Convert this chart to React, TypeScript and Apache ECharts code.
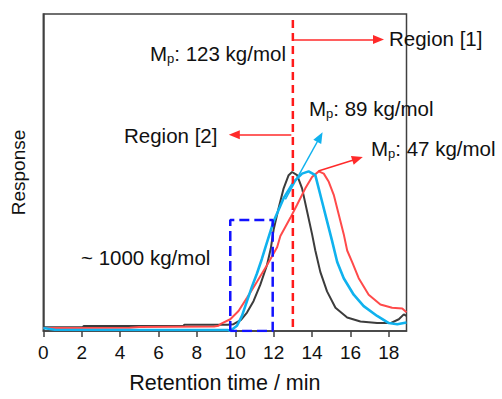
import React, { useEffect, useRef } from "react";
import * as echarts from "echarts";

// x: retention time (min), y: normalized response
const blackCurve: number[][] = [
  [0, 0.023], [2.05, 0.023], [2.1, 0.031], [7.3, 0.031], [7.35, 0.04], [9.6, 0.04],
  [9.91, 0.043], [10.3, 0.07], [10.61, 0.116], [10.95, 0.188], [11.3, 0.291], [11.65, 0.415],
  [11.85, 0.52], [12.0, 0.64], [12.26, 0.776], [12.52, 0.9], [12.78, 0.983], [12.96, 1.003],
  [13.22, 0.983], [13.48, 0.9], [13.74, 0.755], [14.0, 0.611], [14.17, 0.508], [14.43, 0.373],
  [14.78, 0.25], [15.22, 0.147], [15.83, 0.085], [16.52, 0.06], [17.39, 0.05], [18.09, 0.05],
  [18.52, 0.074], [18.78, 0.105], [18.92, 0.095],
];
const cyanCurve: number[][] = [
  [0, 0.019], [0.6, 0.008], [9.6, 0.006], [9.74, 0.002], [10.09, 0.033], [10.35, 0.095],
  [10.61, 0.188], [10.87, 0.28], [11.13, 0.363], [11.39, 0.456], [11.57, 0.528], [12.0, 0.693],
  [12.52, 0.838], [13.04, 0.941], [13.48, 0.993], [13.82, 1.007], [14.17, 0.983], [14.26, 0.941],
  [14.52, 0.817], [14.78, 0.693], [15.04, 0.57], [15.31, 0.435], [15.65, 0.333], [16.17, 0.229],
  [16.69, 0.157], [17.39, 0.095], [18.0, 0.05], [18.44, 0.043], [18.92, 0.054],
];
const redCurve: number[][] = [
  [0, 0.019], [4.5, 0.021], [5.0, 0.025], [8.9, 0.028], [9.13, 0.033], [9.22, 0.043],
  [9.74, 0.074], [10.17, 0.126], [10.61, 0.209], [11.13, 0.311], [11.65, 0.415], [12.18, 0.528],
  [12.35, 0.6], [12.87, 0.714], [13.22, 0.797], [13.65, 0.9], [14.0, 0.972], [14.35, 1.007],
  [14.61, 0.993], [14.87, 0.941], [15.13, 0.859], [15.39, 0.735], [15.65, 0.611], [15.83, 0.508],
  [16.09, 0.435], [16.43, 0.333], [16.95, 0.229], [17.56, 0.167], [18.17, 0.147], [18.7, 0.142],
  [18.92, 0.118],
];
const mpLine: number[][] = [[13.0, 0.025], [13.0, 1.975]];
const boxOutline: number[][] = [[9.74, 0], [9.74, 0.7], [11.95, 0.7], [11.95, 0], [9.74, 0]];
const xTicks = { min: 0, max: 18.92, interval: 2 };

const FONT = "'Liberation Sans', Arial, sans-serif";

export default function App() {
  const ref = useRef<HTMLDivElement>(null);
  useEffect(() => {
    if (!ref.current) return;
    const chart = echarts.init(ref.current, undefined, { renderer: "svg" });
    const arrow = (from: number[], to: number[], color: string) => [
      { coord: from, lineStyle: { color, width: 1.5, type: "solid" } },
      { coord: to },
    ];
    const mp = (rest: string) => `{a|M}{b|p}{a|${rest}}`;
    const rich = {
      a: { fontSize: 20.5, fontFamily: FONT, color: "#111", lineHeight: 24, verticalAlign: "middle" },
      b: { fontSize: 13, fontFamily: FONT, color: "#111", lineHeight: 10, verticalAlign: "bottom" },
    };
    const txt = (x: number, y: number, text: string, align = "left") => ({
      type: "text",
      x,
      y,
      silent: true,
      style: { text, rich, fontSize: 20.5, fontFamily: FONT, fill: "#111", align, verticalAlign: "middle" },
    });
    chart.setOption({
      animation: false,
      grid: { left: 43.3, right: 95.5, top: 14, bottom: 62, show: true, borderColor: "#404040", borderWidth: 1.5 },
      xAxis: {
        type: "value",
        min: xTicks.min,
        max: xTicks.max,
        interval: xTicks.interval,
        name: "Retention time / min",
        nameLocation: "middle",
        nameGap: 41,
        nameTextStyle: { fontSize: 21.5, fontFamily: FONT, color: "#111" },
        axisLine: { lineStyle: { color: "#404040", width: 1.5 } },
        axisTick: { show: true, length: 6, lineStyle: { color: "#404040", width: 1.5 } },
        axisLabel: { fontSize: 19, fontFamily: FONT, color: "#111", margin: 12, showMaxLabel: false },
        splitLine: { show: false },
      },
      yAxis: {
        type: "value",
        min: 0,
        max: 2,
        name: "Response",
        nameLocation: "middle",
        nameGap: 15,
        nameTextStyle: { fontSize: 19, fontFamily: FONT, color: "#111" },
        axisLine: { show: true, lineStyle: { color: "#404040", width: 1.5 } },
        axisTick: { show: false },
        axisLabel: { show: false },
        splitLine: { show: false },
      },
      series: [
        {
          type: "line", data: blackCurve, showSymbol: false, silent: true,
          lineStyle: { color: "#3c3c3c", width: 2 },
        },
        {
          type: "line", data: redCurve, showSymbol: false, silent: true,
          lineStyle: { color: "#ff4a4a", width: 2 },
        },
        {
          type: "line", data: cyanCurve, showSymbol: false, silent: true,
          lineStyle: { color: "#10b2ee", width: 2.6 },
        },
        {
          type: "line", data: boxOutline, showSymbol: false, silent: true,
          lineStyle: { color: "#1212ff", width: 2.5, type: [10, 5] },
        },
        {
          type: "line", data: mpLine, showSymbol: false, silent: true,
          lineStyle: { color: "#ff1a1a", width: 2.5, type: [8, 5] },
          markLine: {
            silent: true,
            symbol: ["none", "triangle"],
            symbolSize: [9, 11],
            label: { show: false },
            emphasis: { disabled: true },
            data: [
              arrow([13.03, 1.839], [17.46, 1.839], "#ff2a2a"),
              arrow([12.92, 1.238], [9.95, 1.238], "#ff2a2a"),
              arrow([12.61, 0.83], [14.41, 1.224], "#10b2ee"),
              arrow([14.33, 1.009], [16.37, 1.087], "#ff2a2a"),
            ],
          },
        },
      ],
      graphic: [
        txt(389, 38, "Region [1]"),
        txt(286, 53, mp(": 123 kg/mol"), "right"),
        txt(309, 108, mp(": 89 kg/mol")),
        txt(124, 135, "Region [2]"),
        txt(371, 148, mp(": 47 kg/mol")),
        txt(81, 257, "~ 1000 kg/mol"),
      ],
    });
    return () => chart.dispose();
  }, []);
  return <div ref={ref} style={{ width: 502, height: 399, position: "absolute", left: 0, top: 0 }} />;
}
